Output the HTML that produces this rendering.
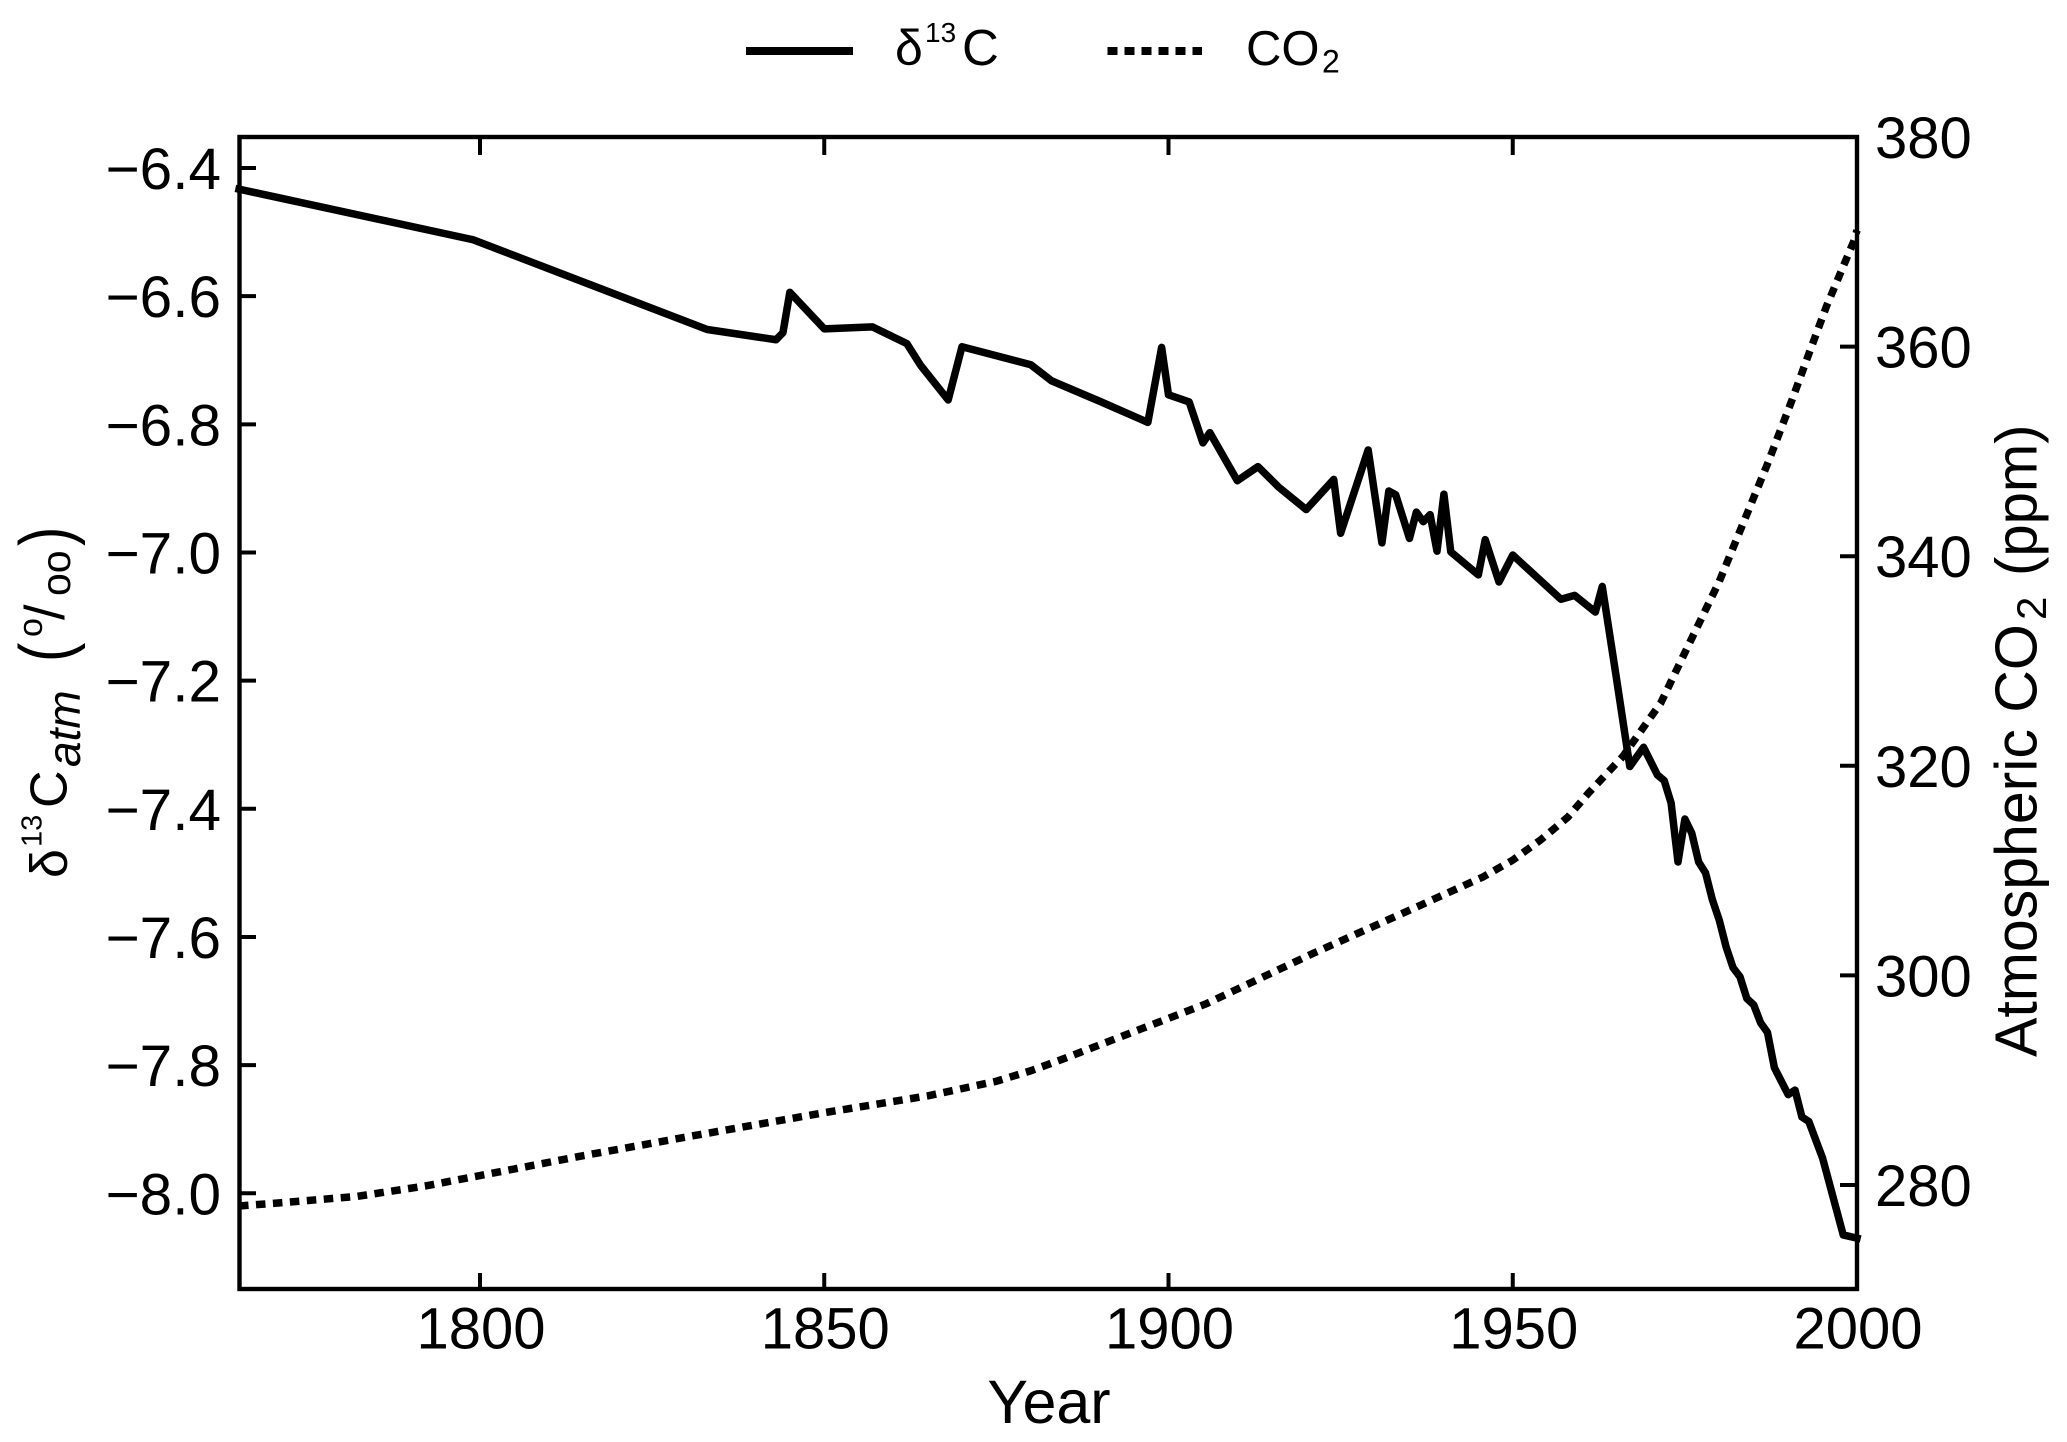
<!DOCTYPE html>
<html lang="en">
<head>
<meta charset="utf-8">
<title>Atmospheric δ13C and CO2, 1765–2000</title>
<style>
html,body{margin:0;padding:0;background:#fff;}
svg{display:block;}
text{font-family:"Liberation Sans",Arial,sans-serif;fill:#000;}
</style>
</head>
<body>
<svg id="chart" xmlns="http://www.w3.org/2000/svg" width="2067" height="1442" viewBox="0 0 2067 1442">
  <rect x="0" y="0" width="2067" height="1442" fill="#fff"/>
  <g id="ticks"></g>
  <g id="tick-labels"></g>
  <rect x="239.5" y="137" width="1617.5" height="1152" fill="none" stroke="#000" stroke-width="4.4"/>
  <g id="series"></g>

  <g>
    <line x1="746" y1="51" x2="853" y2="51" stroke="#000" stroke-width="8"/>
    <text x="895" y="65" font-size="50">δ</text>
    <text x="925" y="42" font-size="28">13</text>
    <text x="962" y="65" font-size="51">C</text>
    <line x1="1107.5" y1="51" x2="1202" y2="51" stroke="#000" stroke-width="8" stroke-dasharray="10 7"/>
    <text x="1246" y="65" font-size="49">CO</text>
    <text x="1322" y="72.7" font-size="32">2</text>
  </g>

  <text x="1049" y="1423" font-size="61" text-anchor="middle">Year</text>

  <g>
    <text transform="translate(66.7,878) rotate(-90)" font-size="52">δ</text>
    <text transform="translate(41.7,847) rotate(-90)" font-size="29">13</text>
    <text transform="translate(66.7,808) rotate(-90)" font-size="52">C</text>
    <text transform="translate(80,767) rotate(-90)" font-size="46" font-style="italic">atm</text>
    <text transform="translate(70,662) rotate(-90) scale(1,1.24)" font-size="58">(</text>
    <text transform="translate(42,637) rotate(-90)" font-size="34">o</text>
    <text transform="translate(64,620) rotate(-90)" font-size="56">/</text>
    <text transform="translate(70,596) rotate(-90)" font-size="41">oo</text>
    <text transform="translate(70,546) rotate(-90) scale(1,1.24)" font-size="58">)</text>
  </g>

  <g>
    <text transform="translate(2036.7,1057) rotate(-90)" font-size="59">Atmospheric CO</text>
    <text transform="translate(2046,620) rotate(-90)" font-size="42">2</text>
    <text transform="translate(2036.7,576) rotate(-90)" font-size="58">(ppm)</text>
  </g>
</svg>

<script>
const xTickValues = [1800, 1850, 1900, 1950, 2000];
const leftTickValues = [-6.4, -6.6, -6.8, -7.0, -7.2, -7.4, -7.6, -7.8, -8.0];
const rightTickValues = [280, 300, 320, 340, 360, 380];

const d13cYears = [1765,1799,1833,1843,1844,1845,1850,1857,1862,1864,1868,1870,1880,1883,1890,1897,1899,1900,1903,1905,1906,1910,1913,1916,1920,1924,1925,1929,1931,1932,1933,1935,1936,1937,1938,1939,1940,1941,1945,1946,1948,1950,1957,1959,1962,1963,1965,1967,1969,1971,1972,1973,1974,1975,1976,1977,1978,1979,1980,1981,1982,1983,1984,1985,1986,1987,1988,1990,1991,1992,1993,1995,1998,2000];
const d13cValues = [-6.433,-6.512,-6.652,-6.668,-6.657,-6.594,-6.651,-6.648,-6.674,-6.708,-6.762,-6.679,-6.707,-6.732,-6.764,-6.797,-6.680,-6.754,-6.765,-6.829,-6.813,-6.888,-6.866,-6.898,-6.933,-6.886,-6.970,-6.840,-6.985,-6.904,-6.910,-6.978,-6.937,-6.952,-6.941,-6.998,-6.909,-6.999,-7.035,-6.980,-7.046,-7.004,-7.073,-7.067,-7.093,-7.053,-7.192,-7.334,-7.304,-7.347,-7.356,-7.391,-7.483,-7.416,-7.438,-7.483,-7.500,-7.542,-7.574,-7.616,-7.648,-7.662,-7.696,-7.706,-7.734,-7.749,-7.804,-7.846,-7.839,-7.881,-7.888,-7.945,-8.065,-8.070];

const co2Years = [1765,1770,1782,1792,1800,1815,1831,1850,1865,1875,1880,1885,1905.5,1921,1934.6,1945.7,1950,1954,1958,1961,1966,1971.5,1975,1980,1984,1987,1990.5,1993,1995.6,1999.5,2000];
const co2Values = [278.0,278.25,278.9,279.9,280.9,282.8,284.7,286.9,288.5,289.9,290.9,292.1,297.3,302.1,306.1,309.4,311.0,312.9,315.1,317.4,320.9,326.0,330.8,337.6,344.0,348.8,354.8,359.3,363.9,370.0,371.1];

const SVG_NS = "http://www.w3.org/2000/svg";

function xScale(year) { return 480 + (year - 1800) * 6.885; }
function leftScale(value) { return 168 + (-6.4 - value) * 640.8; }
function rightScale(ppm) { return 1185 - (ppm - 280) * 10.48; }

function makeEl(tag, attrs, parent) {
  const el = document.createElementNS(SVG_NS, tag);
  for (const k in attrs) el.setAttribute(k, attrs[k]);
  parent.appendChild(el);
  return el;
}

const ticksGroup = document.getElementById("ticks");
const labelsGroup = document.getElementById("tick-labels");
const seriesGroup = document.getElementById("series");
const tickStyle = { stroke: "#000", "stroke-width": 4 };

function line(x1, y1, x2, y2) {
  return makeEl("line", Object.assign({ x1, y1, x2, y2 }, tickStyle), ticksGroup);
}

xTickValues.forEach(function (year) {
  const x = xScale(year);
  const bottom = line(x, 1289, x, 1273);
  
  
  const top = line(x, 137, x, 155);
  
  
  const label = makeEl("text", { x: x + 1, y: 1348.5, "font-size": 58, "text-anchor": "middle" }, labelsGroup);
  label.textContent = String(year);
  
  
});

leftTickValues.forEach(function (value) {
  const y = leftScale(value);
  const tick = line(239.5, y, 256, y);
  
  
  const label = makeEl("text", { x: 221, y: y + 21, "font-size": 58.5, "text-anchor": "end" }, labelsGroup);
  label.textContent = "\u2212" + Math.abs(value).toFixed(1);
  
  
});

rightTickValues.forEach(function (ppm) {
  const y = rightScale(ppm);
  const tick = line(1857, y, 1840, y);
  
  
  const label = makeEl("text", { x: 1875, y: y + 21, "font-size": 58, }, labelsGroup);
  label.textContent = String(ppm);
  
  
});

function pathFrom(xs, ys, yFn) {
  return xs.map(function (x, i) {
    return (i ? "L" : "M") + xScale(x).toFixed(2) + " " + yFn(ys[i]).toFixed(2);
  }).join(" ");
}

const co2Line = makeEl("path", {
  d: pathFrom(co2Years, co2Values, rightScale),
  fill: "none", stroke: "#000", "stroke-width": 7.5, "stroke-dasharray": "9.5 7.5"
}, seriesGroup);



const d13cLine = makeEl("path", {
  d: pathFrom(d13cYears, d13cValues, leftScale),
  fill: "none", stroke: "#000", "stroke-width": 7.5,
  "stroke-linejoin": "round", "stroke-linecap": "square"
}, seriesGroup);


</script>
</body>
</html>
